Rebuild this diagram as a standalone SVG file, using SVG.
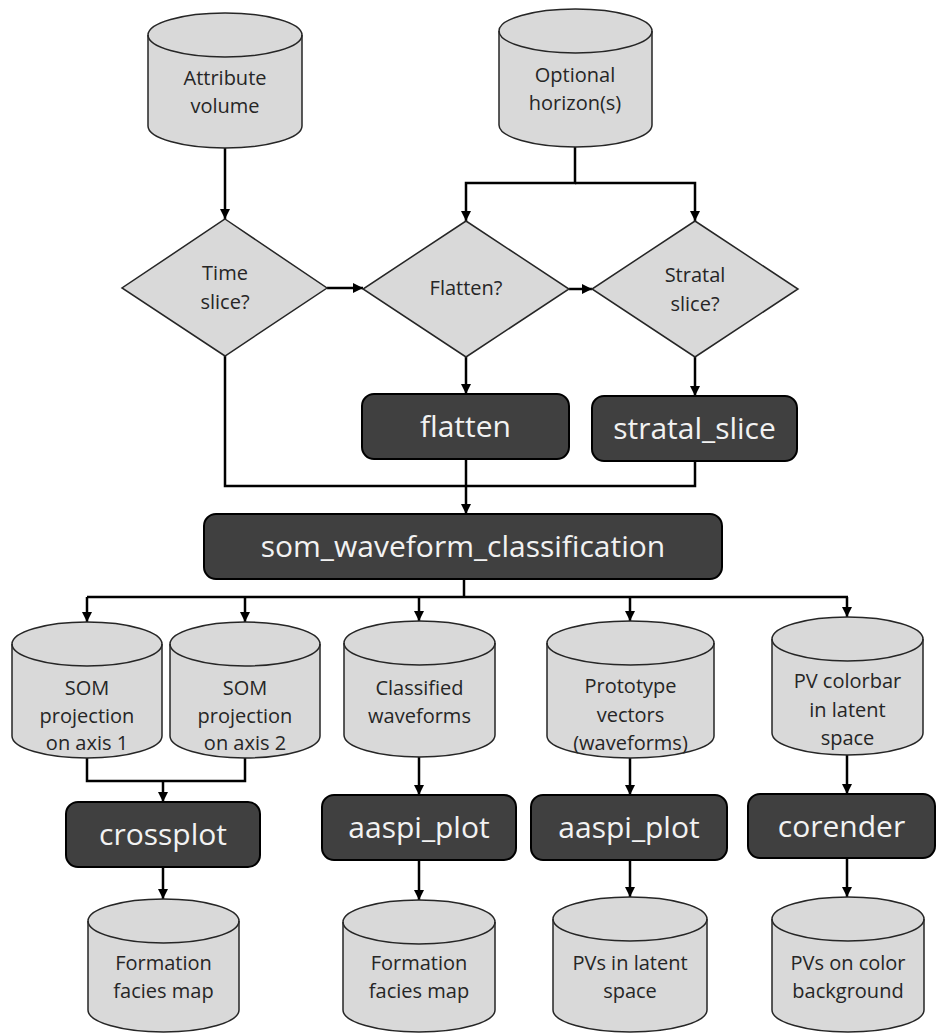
<svg xmlns="http://www.w3.org/2000/svg" width="937" height="1034" viewBox="0 0 937 1034">
<defs>
<style>
.cyl{fill:#d9d9d9;stroke:#262626;stroke-width:1.5}
.cylt{fill:none;stroke:#262626;stroke-width:1.5}
.dia{fill:#d9d9d9;stroke:#262626;stroke-width:1.5}
.box{fill:#404040;stroke:#000;stroke-width:2}
.t{font-family:"Open Sans","Noto Sans",sans-serif;font-size:20px;fill:#262626;text-anchor:middle}
.bt{font-family:"Open Sans","Noto Sans",sans-serif;font-size:30px;fill:#f2f2f2;text-anchor:middle}
.c{fill:none;stroke:#000;stroke-width:2.5}
</style>
<marker id="ah" viewBox="0 0 10 10" refX="10" refY="5" markerWidth="4" markerHeight="4" orient="auto" markerUnits="strokeWidth">
<path d="M0,0 L10,5 L0,10 Z" fill="#000"/>
</marker>
</defs>
<rect width="937" height="1034" fill="#fff"/>

<g id="connectors">
<path class="c" d="M225,148 V219" marker-end="url(#ah)"/>
<path class="c" d="M575,147 V183 H466 V221" marker-end="url(#ah)"/>
<path class="c" d="M575,183 H695 V221" marker-end="url(#ah)"/>
<path class="c" d="M327,288 H363" marker-end="url(#ah)"/>
<path class="c" d="M569,289 H592" marker-end="url(#ah)"/>
<path class="c" d="M466,357 V394" marker-end="url(#ah)"/>
<path class="c" d="M695,357 V396" marker-end="url(#ah)"/>
<path class="c" d="M225,356 V486 H695 V461"/>
<path class="c" d="M466,459 V514" marker-end="url(#ah)"/>
<path class="c" d="M464,579 V597"/>
<path class="c" d="M87,597 H848"/>
<path class="c" d="M87,597 V622" marker-end="url(#ah)"/>
<path class="c" d="M245,597 V622" marker-end="url(#ah)"/>
<path class="c" d="M419,597 V621" marker-end="url(#ah)"/>
<path class="c" d="M630,597 V621" marker-end="url(#ah)"/>
<path class="c" d="M847,597 V617" marker-end="url(#ah)"/>
<path class="c" d="M87,758 V781 H245 V758"/>
<path class="c" d="M163,781 V802" marker-end="url(#ah)"/>
<path class="c" d="M163,867 V899" marker-end="url(#ah)"/>
<path class="c" d="M419,757 V795" marker-end="url(#ah)"/>
<path class="c" d="M419,860 V900" marker-end="url(#ah)"/>
<path class="c" d="M630,758 V795" marker-end="url(#ah)"/>
<path class="c" d="M630,860 V897" marker-end="url(#ah)"/>
<path class="c" d="M847,755 V794" marker-end="url(#ah)"/>
<path class="c" d="M847,858 V897" marker-end="url(#ah)"/>
</g>

<g id="attribute_volume">
<path class="cyl" d="M148,35 A77,22 0 0 1 302,35 V126 A77,22 0 0 1 148,126 Z"/>
<path class="cylt" d="M148,35 A77,22 0 0 0 302,35"/>
<text class="t" x="225" y="85">Attribute</text>
<text class="t" x="225" y="113">volume</text>
</g>

<g id="optional_horizons">
<path class="cyl" d="M499,31 A76.5,22 0 0 1 652,31 V125 A76.5,22 0 0 1 499,125 Z"/>
<path class="cylt" d="M499,31 A76.5,22 0 0 0 652,31"/>
<text class="t" x="575" y="82">Optional</text>
<text class="t" x="575" y="110">horizon(s)</text>
</g>

<g id="time_slice">
<polygon class="dia" points="225,219 327,288 225,356 122,288"/>
<text class="t" x="225" y="280">Time</text>
<text class="t" x="225" y="309">slice?</text>
</g>

<g id="flatten_q">
<polygon class="dia" points="466,221 569,289 466,357 363,289"/>
<text class="t" x="466" y="295">Flatten?</text>
</g>

<g id="stratal_q">
<polygon class="dia" points="695,221 798,289 695,357 592,289"/>
<text class="t" x="695" y="282">Stratal</text>
<text class="t" x="695" y="311">slice?</text>
</g>

<g id="flatten">
<rect class="box" x="362" y="394" width="207" height="65" rx="12"/>
<text class="bt" x="465.5" y="437">flatten</text>
</g>

<g id="stratal_slice">
<rect class="box" x="592" y="396" width="205" height="65" rx="12"/>
<text class="bt" x="694.5" y="439">stratal_slice</text>
</g>

<g id="som_waveform_classification">
<rect class="box" x="204" y="514" width="518" height="65" rx="12"/>
<text class="bt" x="463" y="557">som_waveform_classification</text>
</g>

<g id="som_axis1">
<path class="cyl" d="M12,644 A75,22 0 0 1 162,644 V736 A75,22 0 0 1 12,736 Z"/>
<path class="cylt" d="M12,644 A75,22 0 0 0 162,644"/>
<text class="t" x="87" y="695">SOM</text>
<text class="t" x="87" y="723">projection</text>
<text class="t" x="87" y="750">on axis 1</text>
</g>

<g id="som_axis2">
<path class="cyl" d="M170,644 A75,22 0 0 1 320,644 V736 A75,22 0 0 1 170,736 Z"/>
<path class="cylt" d="M170,644 A75,22 0 0 0 320,644"/>
<text class="t" x="245" y="695">SOM</text>
<text class="t" x="245" y="723">projection</text>
<text class="t" x="245" y="750">on axis 2</text>
</g>

<g id="classified_waveforms">
<path class="cyl" d="M344,643 A75.5,22 0 0 1 495,643 V735 A75.5,22 0 0 1 344,735 Z"/>
<path class="cylt" d="M344,643 A75.5,22 0 0 0 495,643"/>
<text class="t" x="419.5" y="695">Classified</text>
<text class="t" x="419.5" y="723">waveforms</text>
</g>

<g id="prototype_vectors">
<path class="cyl" d="M547,643 A83.5,22 0 0 1 714,643 V736 A83.5,22 0 0 1 547,736 Z"/>
<path class="cylt" d="M547,643 A83.5,22 0 0 0 714,643"/>
<text class="t" x="630.5" y="693">Prototype</text>
<text class="t" x="630.5" y="722">vectors</text>
<text class="t" x="630.5" y="750">(waveforms)</text>
</g>

<g id="pv_colorbar">
<path class="cyl" d="M772,639 A75.5,22 0 0 1 923,639 V733 A75.5,22 0 0 1 772,733 Z"/>
<path class="cylt" d="M772,639 A75.5,22 0 0 0 923,639"/>
<text class="t" x="847.5" y="688">PV colorbar</text>
<text class="t" x="847.5" y="717">in latent</text>
<text class="t" x="847.5" y="745">space</text>
</g>

<g id="crossplot">
<rect class="box" x="66" y="802" width="194" height="65" rx="12"/>
<text class="bt" x="163" y="845">crossplot</text>
</g>

<g id="aaspi_plot_1">
<rect class="box" x="322" y="795" width="194" height="65" rx="12"/>
<text class="bt" x="419" y="838">aaspi_plot</text>
</g>

<g id="aaspi_plot_2">
<rect class="box" x="531" y="795" width="196" height="65" rx="12"/>
<text class="bt" x="629" y="838">aaspi_plot</text>
</g>

<g id="corender">
<rect class="box" x="748" y="794" width="187" height="64" rx="12"/>
<text class="bt" x="841.5" y="837">corender</text>
</g>

<g id="formation_facies_1">
<path class="cyl" d="M88,921 A75.5,22 0 0 1 239,921 V1010 A75.5,22 0 0 1 88,1010 Z"/>
<path class="cylt" d="M88,921 A75.5,22 0 0 0 239,921"/>
<text class="t" x="163.5" y="970">Formation</text>
<text class="t" x="163.5" y="998">facies map</text>
</g>

<g id="formation_facies_2">
<path class="cyl" d="M343,922 A76,22 0 0 1 495,922 V1010 A76,22 0 0 1 343,1010 Z"/>
<path class="cylt" d="M343,922 A76,22 0 0 0 495,922"/>
<text class="t" x="419" y="970">Formation</text>
<text class="t" x="419" y="998">facies map</text>
</g>

<g id="pvs_latent">
<path class="cyl" d="M553,919 A77,22 0 0 1 707,919 V1010 A77,22 0 0 1 553,1010 Z"/>
<path class="cylt" d="M553,919 A77,22 0 0 0 707,919"/>
<text class="t" x="630" y="970">PVs in latent</text>
<text class="t" x="630" y="998">space</text>
</g>

<g id="pvs_color">
<path class="cyl" d="M772,919 A76,22 0 0 1 924,919 V1010 A76,22 0 0 1 772,1010 Z"/>
<path class="cylt" d="M772,919 A76,22 0 0 0 924,919"/>
<text class="t" x="848" y="970">PVs on color</text>
<text class="t" x="848" y="998">background</text>
</g>
</svg>
